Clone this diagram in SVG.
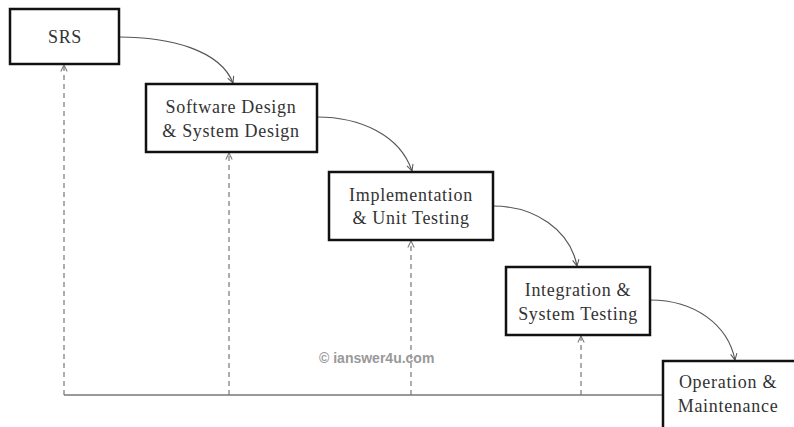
<svg xmlns="http://www.w3.org/2000/svg" width="794" height="427" viewBox="0 0 794 427">
<defs>
<style>
.box{fill:#fff;stroke:#111;stroke-width:2.5}
.lbl{font-family:"Liberation Serif","Times New Roman",serif;font-size:18px;letter-spacing:0.7px;fill:#333;text-anchor:middle}
.flow{fill:none;stroke:#555;stroke-width:1.2}
.back{fill:none;stroke:#777;stroke-width:1.2;stroke-dasharray:5,4}
.base{fill:none;stroke:#777;stroke-width:1.5}
.wm{font-family:"Liberation Sans",Arial,sans-serif;font-weight:bold;font-size:14px;fill:#999}
</style>
<marker id="ah" viewBox="0 0 10 10" refX="9" refY="5" markerWidth="8" markerHeight="8" orient="auto" markerUnits="userSpaceOnUse">
<path d="M1,1 L9,5 L1,9" fill="none" stroke="#555" stroke-width="1.3"/>
</marker>
<marker id="ahd" viewBox="0 0 10 10" refX="9" refY="5" markerWidth="8" markerHeight="8" orient="auto" markerUnits="userSpaceOnUse">
<path d="M1,1 L9,5 L1,9" fill="none" stroke="#777" stroke-width="1.3"/>
</marker>
</defs>
<rect width="794" height="427" fill="#fff"/>
<g id="connectors">
<path class="flow" d="M119,37 C170,37 220,50 233,83" marker-end="url(#ah)"/>
<path class="flow" d="M317,117 C360,117 400,135 412,171" marker-end="url(#ah)"/>
<path class="flow" d="M493,206 C535,206 570,230 577,266" marker-end="url(#ah)"/>
<path class="flow" d="M650,300 C695,300 728,325 735,360" marker-end="url(#ah)"/>
<path class="base" d="M64,395 H663"/>
<path class="back" d="M64,395 V65" marker-end="url(#ahd)"/>
<path class="back" d="M229,395 V153" marker-end="url(#ahd)"/>
<path class="back" d="M411,395 V241" marker-end="url(#ahd)"/>
<path class="back" d="M581,395 V336" marker-end="url(#ahd)"/>
</g>
<g id="srs">
<rect class="box" x="10" y="9" width="109" height="55"/>
<text class="lbl" x="65" y="43">SRS</text>
</g>
<g id="design">
<rect class="box" x="146" y="84" width="171" height="68"/>
<text class="lbl" x="231" y="113">Software Design</text>
<text class="lbl" x="231" y="137">&amp; System Design</text>
</g>
<g id="implementation">
<rect class="box" x="329" y="172" width="164" height="68"/>
<text class="lbl" x="411" y="201">Implementation</text>
<text class="lbl" x="411" y="224">&amp; Unit Testing</text>
</g>
<g id="integration">
<rect class="box" x="506" y="267" width="144" height="68"/>
<text class="lbl" x="578" y="296">Integration &amp;</text>
<text class="lbl" x="578" y="320">System Testing</text>
</g>
<g id="operation">
<rect class="box" x="663" y="361" width="140" height="80"/>
<text class="lbl" x="728" y="388">Operation &amp;</text>
<text class="lbl" x="728" y="412">Maintenance</text>
</g>
<text class="wm" x="319" y="363">© ianswer4u.com</text>
</svg>
